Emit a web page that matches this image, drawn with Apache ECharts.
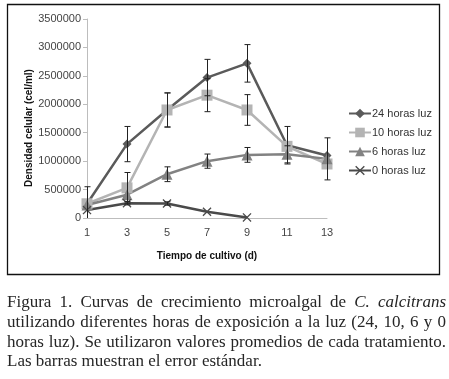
<!DOCTYPE html>
<html><head><meta charset="utf-8">
<script src="https://cdn.jsdelivr.net/npm/echarts@6/dist/echarts.min.js"></script>
<style>html,body{margin:0;padding:0;background:#fff;}#c{width:449px;height:379px;}</style>
</head><body><div id="c"></div>
<script>
const days = ['1','3','5','7','9','11','13'];
const seriesNames = ['24 horas luz','10 horas luz','6 horas luz','0 horas luz'];
const s24 = [250000,1300000,1900000,2470000,2720000,1280000,1100000];
const e24 = [300000,310000,300000,320000,330000,330000,0];
const s10 = [250000,530000,1900000,2160000,1900000,1260000,950000];
const e10 = [0,270000,300000,290000,270000,0,0];
const s6  = [230000,410000,770000,1000000,1110000,1120000,1040000];
const e6  = [0,0,130000,125000,130000,150000,370000];
const s0  = [140000,260000,255000,110000,10000,null,null];
const e0  = [0,30000,30000,0,0,0,0];
const caption = [
 'Figura 1. Curvas de crecimiento microalgal de |C. calcitrans|',
 'utilizando diferentes horas de exposición a la luz (24, 10, 6 y 0',
 'horas luz). Se utilizaron valores promedios de cada tratamiento.',
 'Las barras muestran el error estándar.'
];

const colors = ['#5a5a5a','#b4b4b4','#828282','#4a4a4a'];
const xSym = 'path://M0,1L1,0L5,4L9,0L10,1L6,5L10,9L9,10L5,6L1,10L0,9L4,5Z';

function lineSeries(name, data, color, symbol, size){
  return {name, type:'line', data, symbol, symbolSize:size, showSymbol:true,
    lineStyle:{color, width:2.5}, itemStyle:{color}, z:3, connectNulls:false};
}
function errSeries(vals, errs){
  const d = vals.map((v,i)=>[i, v, errs[i]]).filter(r=>r[1]!=null && r[2]>0);
  return {type:'custom', silent:true, z:4, data:d,
    renderItem(params, api){
      const i=api.value(0), v=api.value(1), e=api.value(2);
      const lo = Math.max(0, v-e), hi = v+e;
      const pHi=api.coord([i,hi]), pLo=api.coord([i,lo]);
      const x=Math.round(pHi[0])+0.5, cw=3;
      const st={stroke:'#222', lineWidth:1};
      const ch=[{type:'line',shape:{x1:x,y1:pHi[1],x2:x,y2:pLo[1]},style:st},
                {type:'line',shape:{x1:x-cw,y1:pHi[1],x2:x+cw,y2:pHi[1]},style:st}];
      if (v-e>0) ch.push({type:'line',shape:{x1:x-cw,y1:pLo[1],x2:x+cw,y2:pLo[1]},style:st});
      return {type:'group',children:ch};
    }};
}

// caption: font size fitted so the tightest line fills the width, then justified
const ctx = document.createElement('canvas').getContext('2d');
const capLeft = 7, capRight = 446, capY = [303,323,343,362];
const fam = '"Liberation Serif"';
function fontFor(it, sz){ return (it?'italic ':'') + sz + 'px ' + fam; }
function lineWords(line){
  const words=[]; line.split('|').forEach((p,pi)=>p.split(' ').filter(w=>w).forEach(w=>words.push({w,it:pi%2===1})));
  return words;
}
function natWidth(line, sz){
  const ws=lineWords(line); ctx.font=fontFor(false,sz); const sp=ctx.measureText(' ').width;
  return ws.reduce((a,o)=>{ctx.font=fontFor(o.it,sz); return a+ctx.measureText(o.w).width;},0)+sp*(ws.length-1);
}
let capSize = 20;
while (capSize > 9 && Math.max(natWidth(caption[1],capSize), natWidth(caption[2],capSize)) > capRight-capLeft) capSize -= 0.25;
const capEls = [];
caption.forEach((line, li)=>{
  const words = lineWords(line);
  const widths = words.map(o=>{ctx.font=fontFor(o.it,capSize); return ctx.measureText(o.w).width;});
  const total = widths.reduce((a,b)=>a+b,0);
  const justify = li < caption.length-1;
  ctx.font = fontFor(false,capSize);
  const sp = justify ? (capRight-capLeft-total)/(words.length-1) : ctx.measureText(' ').width;
  let x = capLeft;
  words.forEach((o,k)=>{
    capEls.push({type:'text', x:x, y:capY[li], style:{text:o.w, font:fontFor(o.it,capSize), fill:'#262626', verticalAlign:'middle'}});
    x += widths[k] + sp;
  });
});

const chart = echarts.init(document.getElementById('c'), null, {renderer:'canvas'});
chart.setOption({
  animation:false,
  color: colors,
  grid:{left:87, right:122, top:19, bottom:161},
  xAxis:{type:'category', data:days, boundaryGap:false,
    axisLine:{lineStyle:{color:'#bdbdbd'}}, axisTick:{show:false},
    axisLabel:{color:'#444', fontSize:11, fontFamily:'Liberation Sans', margin:9}},
  yAxis:{type:'value', min:0, max:3500000, interval:500000,
    axisLine:{show:true, lineStyle:{color:'#bdbdbd'}}, axisTick:{show:true, length:4, lineStyle:{color:'#bdbdbd'}},
    splitLine:{show:false},
    axisLabel:{color:'#444', fontSize:11, fontFamily:'Liberation Sans', margin:6, formatter:v=>String(v)}},
  legend:{orient:'vertical', left:343, top:103, itemGap:8, itemWidth:22, itemHeight:12,
    data:seriesNames, textStyle:{color:'#333', fontSize:11, fontFamily:'Liberation Sans', padding:[0,0,0,-4]}},
  series:[
    lineSeries(seriesNames[0], s24, colors[0], 'diamond', 9),
    lineSeries(seriesNames[1], s10, colors[1], 'rect', 11),
    lineSeries(seriesNames[2], s6, colors[2], 'triangle', 11),
    lineSeries(seriesNames[3], s0, colors[3], xSym, 9),
    errSeries(s24,e24), errSeries(s10,e10), errSeries(s6,e6), errSeries(s0,e0)
  ],
  graphic:[
    {type:'rect', shape:{x:7.5,y:4.5,width:432,height:270}, style:{fill:'none', stroke:'#111', lineWidth:1.3}, silent:true},
    {type:'text', x:207, y:256, style:{text:'Tiempo de cultivo (d)', font:'bold 10px "Liberation Sans"', fill:'#111', align:'center', verticalAlign:'middle'}},
    {type:'text', x:29, y:128, rotation:Math.PI/2, style:{text:'Densidad celular (cel/ml)', font:'bold 10px "Liberation Sans"', fill:'#111', align:'center', verticalAlign:'middle'}},
    ...capEls
  ]
});
</script></body></html>
